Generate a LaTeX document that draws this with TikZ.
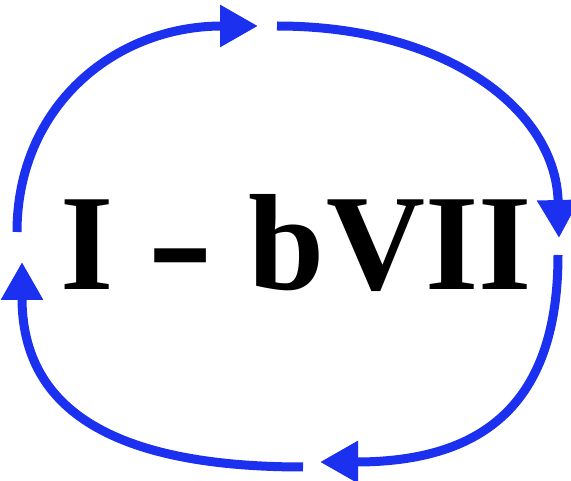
\documentclass[tikz,border=0pt]{standalone}
\usepackage{fontspec}
\setmainfont{Liberation Serif}
\usetikzlibrary{arrows.meta}
\definecolor{arcblue}{RGB}{28,48,240}
\begin{document}
\begin{tikzpicture}[x=1pt,y=-1pt,
  cyc/.style={draw=arcblue, line width=9pt, -{Triangle[length=38pt,width=40pt]}},
  lbl/.style={font=\fontsize{137}{140}\selectfont\bfseries, inner sep=0pt, anchor=base west}]
\useasboundingbox (0,0) rectangle (571,481);
\node[lbl] (title) at (60,290) {I\hspace{0.25em}\raisebox{-5pt}{\scalebox{1.45}[1.2]{-}}\hspace{0.25em}b\hspace{2pt}VII};
\coordinate (a1) at (17,232); \coordinate (b1) at (258,26);
\coordinate (a2) at (277,26); \coordinate (b2) at (559,238);
\coordinate (a3) at (558,255); \coordinate (b3) at (320,462);
\coordinate (a4) at (303,467); \coordinate (b4) at (22,262);
\draw[cyc] (a1) .. controls (17,108) and (113,26) .. (b1);
\draw[cyc] (a2) .. controls (447,26) and (556,110) .. (b2);
\draw[cyc] (a3) .. controls (558,400) and (487,462) .. (b3);
\draw[cyc] (a4) .. controls (106,467) and (22,405) .. (b4);
\end{tikzpicture}
\end{document}
